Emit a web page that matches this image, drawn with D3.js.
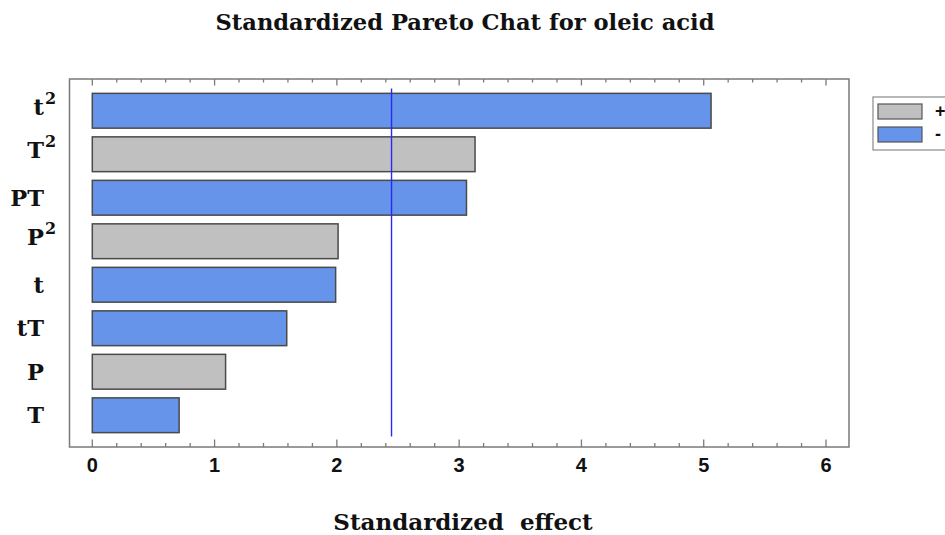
<!DOCTYPE html>
<html>
<head>
<meta charset="utf-8">
<script src="https://cdn.jsdelivr.net/npm/d3@7/dist/d3.min.js"></script>
<style>
  html, body { margin: 0; padding: 0; background: #fff; }
  svg { display: block; }
</style>
</head>
<body>
<script>
// Effect terms, top to bottom, with the superscript part of each label
const terms = ["t", "T", "PT", "P", "t", "tT", "P", "T"];
const powers = ["2", "2", "", "2", "", "", "", ""];
// Standardized effects (absolute values)
const effects = [5.06, 3.13, 3.06, 2.01, 1.99, 1.59, 1.09, 0.71];
// Sign of each effect: "+" or "-"
const signs = ["-", "+", "-", "+", "-", "-", "+", "-"];
// Critical value of the standardized effect
const critical = [2.447];
const xTicks = [0, 1, 2, 3, 4, 5, 6];
const legendKeys = ["+", "-"];

const W = 945, H = 535;
const frame = { left: 69.5, right: 849, top: 79, bottom: 447 };

const svg = d3.select("body").append("svg").attr("width", W).attr("height", H);

const x = d3.scaleLinear().domain([0, 6]).range([92.3, 826]);
const y = d3.scaleBand().domain(d3.range(terms.length)).range([89, 437]).paddingInner(0.2).paddingOuter(0.1);
const color = d3.scaleOrdinal().domain(legendKeys).range(["#c0c0c0", "#6594ea"]);

const serif = "'DejaVu Serif', serif";

// Title
svg.append("text")
  .attr("x", 465).attr("y", 30)
  .attr("text-anchor", "middle")
  .attr("font-family", serif).attr("font-weight", "bold").attr("font-size", 22.6)
  .attr("fill", "#111")
  .text("Standardized Pareto Chat for oleic acid");

// Bars
svg.append("g").selectAll("rect").data(effects).join("rect")
  .attr("x", x(0))
  .attr("y", (d, i) => y(i))
  .attr("width", d => x(d) - x(0))
  .attr("height", y.bandwidth())
  .attr("fill", (d, i) => color(signs[i]))
  .attr("stroke", "#4a4a4a")
  .attr("stroke-width", 1.5);

// Critical value line
svg.append("g").selectAll("line").data(critical).join("line")
  .attr("x1", d => x(d)).attr("x2", d => x(d))
  .attr("y1", 88.5).attr("y2", 436.5)
  .attr("stroke", "#2a2af5").attr("stroke-width", 1.4);

// Plot frame
svg.append("rect")
  .attr("x", frame.left).attr("y", frame.top)
  .attr("width", frame.right - frame.left).attr("height", frame.bottom - frame.top)
  .attr("fill", "none").attr("stroke", "#7a7a7a").attr("stroke-width", 1.5);

// Minor and major ticks along the bottom and top edges
const minor = d3.range(0, 6.0001, 0.2).map(v => +v.toFixed(1));
const tickG = svg.append("g").attr("stroke", "#7a7a7a").attr("stroke-width", 1.3);
tickG.selectAll(".b").data(minor).join("line")
  .attr("x1", d => x(d)).attr("x2", d => x(d))
  .attr("y1", frame.bottom)
  .attr("y2", d => frame.bottom - (Number.isInteger(d) ? 7.5 : 4));
tickG.selectAll(".t").data(minor).join("line")
  .attr("x1", d => x(d)).attr("x2", d => x(d))
  .attr("y1", frame.top)
  .attr("y2", d => frame.top + (Number.isInteger(d) ? 6.5 : 3.5));

// Bottom tick labels
svg.append("g").selectAll("text").data(xTicks).join("text")
  .attr("x", d => x(d)).attr("y", 472)
  .attr("text-anchor", "middle")
  .attr("font-family", "'Liberation Sans Narrow', 'Liberation Sans', Arial, sans-serif")
  .attr("font-weight", "bold").attr("font-size", 20)
  .attr("fill", "#111")
  .text(d => d);

// Term labels with superscripts
const lab = svg.append("g").attr("font-family", serif).attr("font-weight", "bold").attr("fill", "#111");
terms.forEach((t, i) => {
  const cy = y(i) + y.bandwidth() / 2;
  const lift = powers[i] ? 4 : 0;
  lab.append("text")
    .attr("x", 44).attr("y", cy + 8 - lift)
    .attr("text-anchor", "end").attr("font-size", 22.5)
    .text(t);
  if (powers[i]) {
    lab.append("text")
      .attr("x", 45).attr("y", cy - 3 - lift)
      .attr("text-anchor", "start").attr("font-size", 16)
      .text(powers[i]);
  }
});

// X axis title
svg.append("text")
  .attr("x", 463).attr("y", 530)
  .attr("text-anchor", "middle")
  .attr("font-family", serif).attr("font-weight", "bold").attr("font-size", 23)
  .attr("fill", "#111")
  .attr("xml:space", "preserve")
  .style("white-space", "pre")
  .text("Standardized  effect");

// Legend
const lg = svg.append("g");
lg.append("rect")
  .attr("x", 873).attr("y", 97).attr("width", 90).attr("height", 53)
  .attr("fill", "#fff").attr("stroke", "#8a8a8a").attr("stroke-width", 1.2);
legendKeys.forEach((k, i) => {
  lg.append("rect")
    .attr("x", 878).attr("y", 104 + i * 23).attr("width", 44).attr("height", 15)
    .attr("fill", color(k)).attr("stroke", "#555").attr("stroke-width", 1.2);
  lg.append("text")
    .attr("x", 935).attr("y", 117 + i * 23)
    .attr("font-family", "'Liberation Sans', Arial, sans-serif")
    .attr("font-weight", "bold").attr("font-size", 18)
    .attr("fill", "#111")
    .text(k);
});
</script>
</body>
</html>
